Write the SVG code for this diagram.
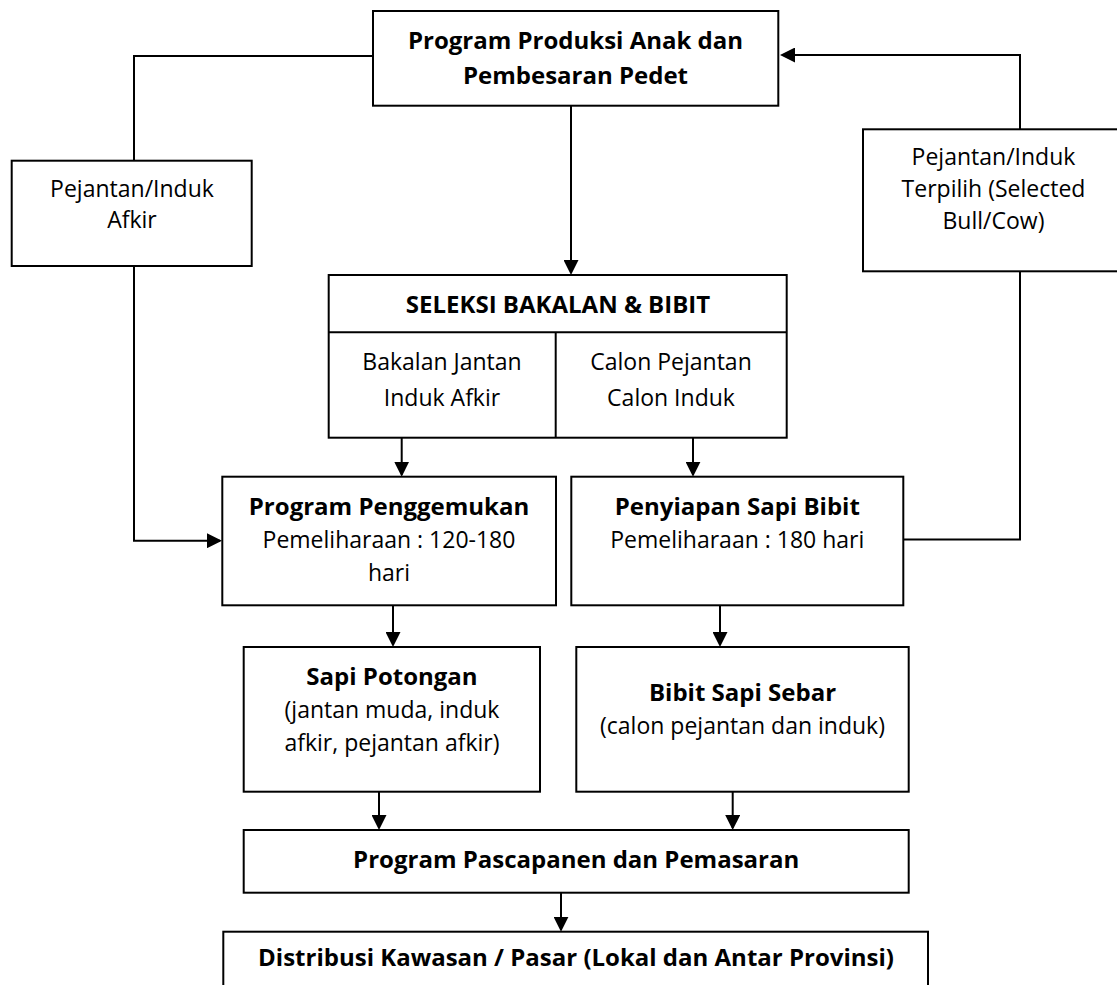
<svg xmlns="http://www.w3.org/2000/svg" width="1117" height="985" viewBox="0 0 1117 985">
<style>
.box{fill:#fff;stroke:#000;stroke-width:2}
.ln{fill:none;stroke:#000;stroke-width:2}
.b{font-family:"Open Sans","Liberation Sans",sans-serif;font-weight:bold;font-size:24px;text-anchor:middle;fill:#000}
.r{font-family:"Open Sans","Liberation Sans",sans-serif;font-size:23px;text-anchor:middle;fill:#000}
</style>
<defs>
<marker id="ah" markerUnits="userSpaceOnUse" markerWidth="15" markerHeight="15" viewBox="0 0 15 15" refX="13" refY="7.5" orient="auto">
<path d="M0,0 L15,7.5 L0,15 z" fill="#000"/>
</marker>
</defs>
<rect x="0" y="0" width="1117" height="985" fill="#fff"/>
<g id="connectors">
<path class="ln" d="M373,56 H134 V161"/>
<path class="ln" d="M134,266 V540.7 H220" marker-end="url(#ah)"/>
<path class="ln" d="M903.3,539.5 H1020 V271.3"/>
<path class="ln" d="M1020,129.3 V55 H782" marker-end="url(#ah)"/>
<path class="ln" d="M571,106 V273" marker-end="url(#ah)"/>
<path class="ln" d="M401.7,437.7 V474.7" marker-end="url(#ah)"/>
<path class="ln" d="M693,437.7 V474.7" marker-end="url(#ah)"/>
<path class="ln" d="M393,605.3 V645" marker-end="url(#ah)"/>
<path class="ln" d="M720,605.3 V645" marker-end="url(#ah)"/>
<path class="ln" d="M379,791.7 V828" marker-end="url(#ah)"/>
<path class="ln" d="M732.7,791.7 V828" marker-end="url(#ah)"/>
<path class="ln" d="M561,892.7 V929.7" marker-end="url(#ah)"/>
</g>
<g id="node-produksi">
<rect class="box" x="373" y="11" width="405.3" height="94.7"/>
<text class="b" x="575.5" y="49.3">Program Produksi Anak dan</text>
<text class="b" x="575.5" y="84.3">Pembesaran Pedet</text>
</g>
<g id="node-afkir">
<rect class="box" x="11.7" y="160.7" width="240" height="105.3"/>
<text class="r" x="132" y="196.7">Pejantan/Induk</text>
<text class="r" x="132" y="228.3">Afkir</text>
</g>
<g id="node-terpilih">
<rect class="box" x="863" y="129.3" width="261" height="142"/>
<text class="r" x="993.5" y="165">Pejantan/Induk</text>
<text class="r" x="993.5" y="197.3">Terpilih (Selected</text>
<text class="r" x="993.5" y="229.3">Bull/Cow)</text>
</g>
<g id="node-seleksi">
<rect class="box" x="328.7" y="275" width="458" height="162.7"/>
<line class="ln" x1="328.7" y1="332.3" x2="786.7" y2="332.3"/>
<line class="ln" x1="555.7" y1="332.3" x2="555.7" y2="437.7"/>
<text class="b" x="558" y="313.3">SELEKSI BAKALAN &amp; BIBIT</text>
<text class="r" x="442" y="370">Bakalan Jantan</text>
<text class="r" x="442" y="406">Induk Afkir</text>
<text class="r" x="671" y="370">Calon Pejantan</text>
<text class="r" x="671" y="406">Calon Induk</text>
</g>
<g id="node-penggemukan">
<rect class="box" x="222.3" y="476.7" width="333.7" height="128.6"/>
<text class="b" x="389" y="515">Program Penggemukan</text>
<text class="r" x="389" y="548.3">Pemeliharaan : 120-180</text>
<text class="r" x="389" y="580.7">hari</text>
</g>
<g id="node-penyiapan">
<rect class="box" x="571.3" y="476.7" width="332" height="128.6"/>
<text class="b" x="737.3" y="515">Penyiapan Sapi Bibit</text>
<text class="r" x="737.3" y="548">Pemeliharaan : 180 hari</text>
</g>
<g id="node-potongan">
<rect class="box" x="243.7" y="647" width="296.3" height="144.7"/>
<text class="b" x="392" y="685">Sapi Potongan</text>
<text class="r" x="392" y="718.3">(jantan muda, induk</text>
<text class="r" x="392" y="750.7">afkir, pejantan afkir)</text>
</g>
<g id="node-bibit">
<rect class="box" x="576.3" y="647" width="332.4" height="144.7"/>
<text class="b" x="742.5" y="700.7">Bibit Sapi Sebar</text>
<text class="r" x="742.5" y="734.3">(calon pejantan dan induk)</text>
</g>
<g id="node-pascapanen">
<rect class="box" x="243.7" y="830" width="665" height="62.7"/>
<text class="b" x="576.2" y="867.7">Program Pascapanen dan Pemasaran</text>
</g>
<g id="node-distribusi">
<rect class="box" x="223.3" y="931.7" width="704.7" height="80"/>
<text class="b" x="576" y="965.7">Distribusi Kawasan / Pasar (Lokal dan Antar Provinsi)</text>
</g>
</svg>
